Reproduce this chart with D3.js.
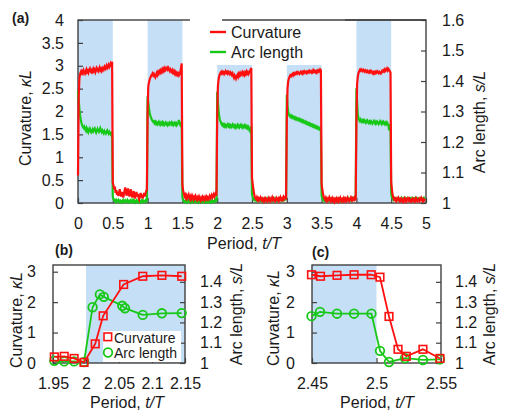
<!DOCTYPE html>
<html>
<head>
<meta charset="utf-8">
<script src="https://d3js.org/d3.v7.min.js"></script>
<style>
  body { margin: 0; background: #fff; }
  svg text { font-family: "Liberation Sans", Arial, sans-serif; fill: #1a1a1a; }
  .axis text { font-size: 16px; }
  .axis line { stroke: #404040; stroke-width: 1.2; }
  .axis path { display: none; }
  .frame { fill: none; stroke: #404040; stroke-width: 1.4; }
</style>
</head>
<body>
<svg id="chart" width="505" height="412"></svg>
<script>
// ---- data, panel (a): one array of samples per half period ----
const halfPeriod = 0.5;
const shadeA = [[0, 0.5], [1, 1.5], [2, 2.5], [3, 3.5], [4, 4.5]];
const periodTicksA = [0, 0.5, 1, 1.5, 2, 2.5, 3, 3.5, 4, 4.5, 5];
const curvTicksA = [0, 0.5, 1, 1.5, 2, 2.5, 3, 3.5, 4];
const arcTicksA = [1, 1.1, 1.2, 1.3, 1.4, 1.5, 1.6];

const curvatureA = [
  [0.6, 2.3, 2.72, 2.82, 2.86, 2.8, 2.87, 2.84, 2.9, 2.86, 2.83, 2.88, 2.92, 2.86, 2.89, 2.85, 2.91, 2.94, 2.88, 2.86,
   2.9, 2.87, 2.93, 2.89, 2.92, 2.86, 2.9, 2.95, 2.91, 2.88, 2.92, 2.96, 2.9, 2.93, 2.89, 2.94, 2.91, 2.95, 2.98, 2.93,
   2.96, 3.0, 2.95, 2.98, 3.02, 2.97, 3.0, 3.05, 3.02, 3.09],
  [0.45, 0.38, 0.3, 0.36, 0.22, 0.28, 0.18, 0.25, 0.15, 0.22, 0.3, 0.2, 0.14, 0.24, 0.18, 0.12, 0.2, 0.28, 0.34, 0.22,
   0.16, 0.25, 0.32, 0.2, 0.14, 0.22, 0.3, 0.18, 0.12, 0.2, 0.26, 0.16, 0.1, 0.18, 0.24, 0.14, 0.2, 0.12, 0.08, 0.15,
   0.22, 0.12, 0.18, 0.1, 0.16, 0.22, 0.14, 0.2, 0.26, 0.3],
  [2.0, 2.55, 2.64, 2.7, 2.74, 2.78, 2.8, 2.83, 2.79, 2.82, 2.78, 2.75, 2.8, 2.84, 2.8, 2.86, 2.83, 2.88, 2.85, 2.9,
   2.87, 2.92, 2.88, 2.93, 2.9, 2.95, 2.91, 2.94, 2.96, 2.92, 2.95, 2.91, 2.88, 2.92, 2.89, 2.86, 2.9, 2.85, 2.88, 2.83,
   2.86, 2.81, 2.84, 2.8, 2.83, 2.79, 2.82, 2.86, 2.95, 3.05],
  [0.4, 0.28, 0.22, 0.15, 0.18, 0.12, 0.16, 0.1, 0.14, 0.18, 0.12, 0.08, 0.14, 0.1, 0.16, 0.12, 0.08, 0.13, 0.1, 0.15,
   0.11, 0.07, 0.12, 0.09, 0.14, 0.1, 0.06, 0.11, 0.08, 0.13, 0.09, 0.12, 0.07, 0.1, 0.14, 0.09, 0.12, 0.08, 0.11, 0.15,
   0.1, 0.13, 0.17, 0.12, 0.15, 0.19, 0.14, 0.18, 0.22, 0.2],
  [1.9, 2.55, 2.7, 2.78, 2.82, 2.85, 2.83, 2.87, 2.84, 2.86, 2.82, 2.85, 2.88, 2.84, 2.86, 2.83, 2.87, 2.85, 2.82, 2.86,
   2.84, 2.8, 2.83, 2.78, 2.74, 2.79, 2.76, 2.72, 2.77, 2.8, 2.76, 2.82, 2.79, 2.84, 2.8, 2.83, 2.86, 2.81, 2.84, 2.8,
   2.85, 2.82, 2.87, 2.83, 2.86, 2.82, 2.85, 2.88, 2.92, 2.95],
  [0.55, 0.42, 0.3, 0.2, 0.14, 0.1, 0.08, 0.12, 0.07, 0.1, 0.06, 0.09, 0.12, 0.07, 0.05, 0.1, 0.08, 0.04, 0.09, 0.06,
   0.1, 0.07, 0.04, 0.08, 0.11, 0.06, 0.09, 0.05, 0.08, 0.12, 0.07, 0.1, 0.06, 0.04, 0.08, 0.11, 0.07, 0.09, 0.05, 0.1,
   0.07, 0.12, 0.08, 0.06, 0.1, 0.13, 0.08, 0.11, 0.14, 0.12],
  [1.8, 2.5, 2.66, 2.72, 2.76, 2.79, 2.77, 2.8, 2.82, 2.79, 2.83, 2.81, 2.84, 2.82, 2.85, 2.83, 2.86, 2.84, 2.82, 2.85,
   2.87, 2.84, 2.86, 2.83, 2.87, 2.85, 2.88, 2.86, 2.84, 2.87, 2.85, 2.88, 2.86, 2.89, 2.87, 2.85, 2.88, 2.86, 2.9, 2.87,
   2.89, 2.86, 2.88, 2.85, 2.89, 2.87, 2.9, 2.88, 2.92, 2.9],
  [0.42, 0.3, 0.2, 0.14, 0.1, 0.07, 0.11, 0.06, 0.09, 0.05, 0.08, 0.12, 0.07, 0.04, 0.09, 0.06, 0.1, 0.05, 0.08, 0.03,
   0.07, 0.1, 0.05, 0.08, 0.04, 0.09, 0.06, 0.11, 0.07, 0.04, 0.08, 0.05, 0.1, 0.06, 0.09, 0.04, 0.07, 0.11, 0.06, 0.08,
   0.05, 0.09, 0.12, 0.07, 0.1, 0.06, 0.08, 0.11, 0.07, 0.09],
  [1.7, 2.6, 2.76, 2.84, 2.88, 2.91, 2.89, 2.92, 2.9, 2.88, 2.91, 2.89, 2.87, 2.9, 2.88, 2.86, 2.89, 2.87, 2.85, 2.88,
   2.86, 2.89, 2.87, 2.84, 2.86, 2.83, 2.86, 2.84, 2.87, 2.85, 2.88, 2.86, 2.84, 2.87, 2.85, 2.83, 2.86, 2.89, 2.87, 2.9,
   2.88, 2.92, 2.89, 2.91, 2.94, 2.9, 2.93, 2.91, 2.88, 2.85],
  [0.45, 0.3, 0.18, 0.12, 0.08, 0.1, 0.06, 0.09, 0.05, 0.08, 0.11, 0.06, 0.04, 0.08, 0.05, 0.09, 0.06, 0.03, 0.07, 0.1,
   0.05, 0.08, 0.04, 0.07, 0.1, 0.06, 0.09, 0.05, 0.03, 0.07, 0.05, 0.09, 0.06, 0.04, 0.08, 0.05, 0.1, 0.07, 0.04, 0.06,
   0.09, 0.05, 0.08, 0.11, 0.06, 0.04, 0.08, 0.05, 0.07, 0.06]
];

const arcLengthA = [
  [1.368, 1.338, 1.308, 1.288, 1.273, 1.262, 1.255, 1.249, 1.246, 1.25, 1.242, 1.238, 1.245, 1.236, 1.241, 1.233, 1.239, 1.244, 1.236, 1.232,
   1.238, 1.242, 1.235, 1.24, 1.244, 1.236, 1.231, 1.238, 1.243, 1.237, 1.233, 1.239, 1.245, 1.237, 1.232, 1.238, 1.234, 1.229, 1.236, 1.232,
   1.228, 1.234, 1.238, 1.231, 1.227, 1.233, 1.229, 1.225, 1.23, 1.228],
  [1.02, 1.012, 1.008, 1.01, 1.005, 1.009, 1.004, 1.007, 1.01, 1.005, 1.003, 1.008, 1.006, 1.002, 1.007, 1.01, 1.005, 1.003, 1.008, 1.004,
   1.006, 1.01, 1.004, 1.002, 1.007, 1.005, 1.009, 1.003, 1.006, 1.01, 1.004, 1.007, 1.002, 1.006, 1.009, 1.004, 1.007, 1.003, 1.008, 1.005,
   1.002, 1.006, 1.01, 1.004, 1.007, 1.003, 1.006, 1.009, 1.005, 1.008],
  [1.35, 1.33, 1.31, 1.295, 1.286, 1.28, 1.274, 1.27, 1.266, 1.268, 1.262, 1.266, 1.26, 1.264, 1.258, 1.262, 1.266, 1.259, 1.263, 1.257,
   1.261, 1.265, 1.258, 1.262, 1.256, 1.26, 1.264, 1.258, 1.261, 1.255, 1.259, 1.263, 1.257, 1.26, 1.264, 1.258, 1.262, 1.256, 1.26, 1.263,
   1.257, 1.261, 1.255, 1.259, 1.263, 1.272, 1.262, 1.256, 1.26, 1.264],
  [1.018, 1.01, 1.006, 1.003, 1.007, 1.004, 1.008, 1.002, 1.005, 1.009, 1.004, 1.006, 1.002, 1.007, 1.004, 1.008, 1.003, 1.006, 1.01, 1.004,
   1.002, 1.006, 1.009, 1.003, 1.007, 1.004, 1.002, 1.006, 1.008, 1.003, 1.005, 1.009, 1.004, 1.002, 1.007, 1.005, 1.003, 1.008, 1.004, 1.006,
   1.002, 1.007, 1.004, 1.009, 1.005, 1.003, 1.007, 1.01, 1.006, 1.008],
  [1.365, 1.33, 1.3, 1.283, 1.272, 1.266, 1.26, 1.256, 1.259, 1.253, 1.257, 1.251, 1.255, 1.25, 1.254, 1.258, 1.252, 1.256, 1.25, 1.254,
   1.249, 1.253, 1.257, 1.251, 1.255, 1.249, 1.253, 1.247, 1.252, 1.256, 1.25, 1.254, 1.248, 1.252, 1.256, 1.25, 1.253, 1.247, 1.251, 1.255,
   1.249, 1.253, 1.247, 1.251, 1.245, 1.249, 1.24, 1.236, 1.245, 1.25],
  [1.03, 1.018, 1.012, 1.015, 1.01, 1.013, 1.008, 1.012, 1.015, 1.01, 1.007, 1.012, 1.009, 1.014, 1.01, 1.006, 1.011, 1.014, 1.009, 1.012,
   1.008, 1.013, 1.01, 1.015, 1.011, 1.007, 1.012, 1.009, 1.014, 1.01, 1.013, 1.008, 1.011, 1.015, 1.01, 1.012, 1.007, 1.011, 1.014, 1.009,
   1.012, 1.016, 1.01, 1.013, 1.009, 1.014, 1.011, 1.016, 1.012, 1.015],
  [1.355, 1.32, 1.3, 1.29, 1.286, 1.283, 1.287, 1.281, 1.284, 1.279, 1.282, 1.277, 1.28, 1.275, 1.278, 1.273, 1.276, 1.272, 1.275, 1.27,
   1.273, 1.268, 1.271, 1.266, 1.269, 1.264, 1.267, 1.262, 1.265, 1.26, 1.263, 1.258, 1.261, 1.256, 1.259, 1.254, 1.257, 1.252, 1.255, 1.25,
   1.253, 1.248, 1.251, 1.246, 1.249, 1.244, 1.247, 1.242, 1.245, 1.24],
  [1.025, 1.015, 1.01, 1.013, 1.008, 1.012, 1.009, 1.014, 1.01, 1.007, 1.012, 1.009, 1.013, 1.008, 1.011, 1.015, 1.01, 1.007, 1.012, 1.009,
   1.013, 1.01, 1.006, 1.011, 1.014, 1.009, 1.012, 1.008, 1.013, 1.01, 1.007, 1.012, 1.015, 1.01, 1.008, 1.013, 1.009, 1.012, 1.016, 1.011,
   1.008, 1.013, 1.01, 1.014, 1.009, 1.012, 1.016, 1.011, 1.014, 1.018],
  [1.376, 1.33, 1.29, 1.278, 1.272, 1.268, 1.274, 1.27, 1.266, 1.271, 1.267, 1.272, 1.268, 1.264, 1.269, 1.265, 1.27, 1.266, 1.262, 1.267,
   1.263, 1.268, 1.264, 1.26, 1.265, 1.269, 1.264, 1.26, 1.266, 1.262, 1.267, 1.263, 1.259, 1.264, 1.268, 1.263, 1.259, 1.265, 1.261, 1.266,
   1.262, 1.258, 1.263, 1.259, 1.264, 1.26, 1.255, 1.238, 1.252, 1.258],
  [1.03, 1.018, 1.014, 1.01, 1.013, 1.016, 1.011, 1.014, 1.009, 1.013, 1.016, 1.011, 1.014, 1.01, 1.013, 1.017, 1.012, 1.009, 1.014, 1.011,
   1.015, 1.01, 1.013, 1.016, 1.012, 1.009, 1.014, 1.011, 1.015, 1.012, 1.016, 1.011, 1.014, 1.01, 1.013, 1.017, 1.012, 1.015, 1.011, 1.014,
   1.01, 1.013, 1.016, 1.012, 1.015, 1.011, 1.014, 1.017, 1.012, 1.015]
];

// ---- data, panel (b): start of a bending stroke ----
const periodTicksB = [1.95, 2, 2.05, 2.1, 2.15];
const curvTicksB = [0, 1, 2, 3];
const arcTicksB = [1, 1.1, 1.2, 1.3, 1.4];
const curvTimeB = [1.952, 1.967, 1.982, 1.997, 2.014, 2.026, 2.057, 2.086, 2.115, 2.145];
const curvB = [0.2, 0.22, 0.15, 0.02, 0.63, 1.55, 2.58, 2.85, 2.88, 2.85];
const arcTimeB = [1.952, 1.967, 1.982, 1.997, 2.01, 2.021, 2.027, 2.055, 2.059, 2.086, 2.115, 2.145];
const arcB = [1.011, 1.008, 1.008, 1.005, 1.275, 1.338, 1.326, 1.282, 1.27, 1.237, 1.245, 1.246];

// ---- data, panel (c): release ----
const periodTicksC = [2.45, 2.5, 2.55];
const curvTimeC = [2.4496, 2.4566, 2.4694, 2.4826, 2.4959, 2.5027, 2.5097, 2.5167, 2.5231, 2.536, 2.5492];
const curvC = [2.9, 2.85, 2.88, 2.9, 2.9, 2.82, 1.53, 0.45, 0.22, 0.45, 0.15];
const arcTimeC = [2.4496, 2.4562, 2.4694, 2.4826, 2.4961, 2.5027, 2.5097, 2.5221, 2.536, 2.5492];
const arcC = [1.231, 1.252, 1.243, 1.243, 1.243, 1.06, 1.005, 1.024, 1.015, 1.018];

const red = "#ff1010", green = "#18c818", blue = "#c5dff6";

const svg = d3.select("#chart");

// shading, axes, frame and titles shared by the three panels
function drawPanel(p) {
    const g = svg.append("g");
    const [x0, x1] = p.x.range();
    const [yb, yt] = p.y.range();

    g.selectAll(".shade")
        .data(p.shade)
        .enter().append("rect")
        .attr("x", d => p.x(d[0]))
        .attr("y", yt)
        .attr("width", d => p.x(d[1]) - p.x(d[0]))
        .attr("height", yb - yt)
        .attr("fill", blue);

    g.append("g")
        .attr("class", "axis")
        .attr("transform", `translate(${x0},0)`)
        .call(d3.axisLeft(p.y).tickValues(p.yTicks).tickSize(-5).tickPadding(p.padL).tickFormat(d => d));

    g.append("g")
        .attr("class", "axis")
        .attr("transform", `translate(${x1},0)`)
        .call(d3.axisRight(p.y2).tickValues(p.y2Ticks).tickSize(-5).tickPadding(p.padR).tickFormat(d => d));

    g.append("g")
        .attr("class", "axis")
        .attr("transform", `translate(0,${yb})`)
        .call(d3.axisBottom(p.x).tickValues(p.xTicks).tickSize(-5).tickPadding(15).tickFormat(d => d));

    g.append("rect")
        .attr("class", "frame")
        .attr("x", x0).attr("y", yt)
        .attr("width", x1 - x0).attr("height", yb - yt);

    // axis titles
    title(g, p.xTitle[0], p.xTitle[1], 0, [["Period, ", false], ["t/T", true]]);
    title(g, p.lTitle[0], p.lTitle[1], -90, [["Curvature, ", false], ["\u03baL", true]]);
    title(g, p.rTitle[0], p.rTitle[1], -90, [["Arc length, ", false], ["s/L", true]]);

    g.append("text")
        .attr("x", p.tag[0]).attr("y", p.tag[1])
        .style("font-size", "14px").style("font-weight", "bold")
        .text(p.tag[2]);
    return g;
}

function title(g, x, y, rot, parts) {
    const t = g.append("text")
        .attr("text-anchor", "middle")
        .attr("transform", `translate(${x},${y}) rotate(${rot})`)
        .style("font-size", "16px");
    parts.forEach(d => t.append("tspan").style("font-style", d[1] ? "italic" : "normal").text(d[0]));
}

// sample times inside each half period
function halfPeriodPoints(segments) {
    const pts = [];
    segments.forEach((vals, k) => {
        vals.forEach((v, j) => pts.push([k * halfPeriod + j * halfPeriod / vals.length, v]));
    });
    return pts;
}

// ---------- Panel (a) ----------
const xA = d3.scaleLinear().domain([0, 5]).range([78, 426]);
const yA = d3.scaleLinear().domain([0, 4]).range([203, 20]);
const y2A = d3.scaleLinear().domain([1, 1.6]).range([203, 20]);

const gA = drawPanel({
    x: xA, y: yA, y2: y2A, shade: shadeA,
    xTicks: periodTicksA, yTicks: curvTicksA, y2Ticks: arcTicksA,
    padL: 14, padR: 16,
    xTitle: [244, 249], lTitle: [31, 118], rTitle: [485, 122], tag: [12, 23, "(a)"]
});

gA.append("path")
    .datum(halfPeriodPoints(arcLengthA))
    .attr("fill", "none").attr("stroke", green).attr("stroke-width", 2.2)
    .attr("d", d3.line().x(d => xA(d[0])).y(d => y2A(d[1])));

gA.append("path")
    .datum(halfPeriodPoints(curvatureA))
    .attr("fill", "none").attr("stroke", red).attr("stroke-width", 2.2)
    .attr("d", d3.line().x(d => xA(d[0])).y(d => yA(d[1])));

// legend (a) sits on a white box over the plot top
gA.append("rect").attr("x", 190).attr("y", 18.5).attr("width", 155).attr("height", 46.5).attr("fill", "#fff");
gA.append("line").attr("x1", 222).attr("x2", 426).attr("y1", 20).attr("y2", 20)
    .attr("stroke", "#404040").attr("stroke-width", 1.4);
[["Curvature", red, 32], ["Arc length", green, 52]].forEach(d => {
    gA.append("line").attr("x1", 210).attr("x2", 226).attr("y1", d[2]).attr("y2", d[2])
        .attr("stroke", d[1]).attr("stroke-width", 2.4);
    gA.append("text").attr("x", 231).attr("y", d[2] + 5.5).style("font-size", "16px").text(d[0]);
});

// ---------- Panel (b) ----------
const xB = d3.scaleLinear().domain([1.95, 2.15]).range([53, 185]);
const yB = d3.scaleLinear().domain([0, 3.22]).range([363, 265]);
const y2B = d3.scaleLinear().domain([1, 1.483]).range([363, 265]);

const gB = drawPanel({
    x: xB, y: yB, y2: y2B, shade: [[2, 2.15]],
    xTicks: periodTicksB, yTicks: curvTicksB, y2Ticks: arcTicksB,
    padL: 17, padR: 15,
    xTitle: [127, 408], lTitle: [21.5, 320], rTitle: [242, 314], tag: [55, 255, "(b)"]
});

// ---------- Panel (c) ----------
const xC = d3.scaleLinear().domain([2.45, 2.55]).range([312, 441]);
const yC = d3.scaleLinear().domain([0, 3.22]).range([363, 265]);
const y2C = d3.scaleLinear().domain([1, 1.483]).range([363, 265]);

const gC = drawPanel({
    x: xC, y: yC, y2: y2C, shade: [[2.45, 2.5]],
    xTicks: periodTicksC, yTicks: curvTicksB, y2Ticks: arcTicksB,
    padL: 17, padR: 14,
    xTitle: [377, 408], lTitle: [279, 318], rTitle: [495, 314], tag: [312, 257, "(c)"]
});

// marker series for (b) and (c)
function drawMarkers(g, x, y, y2, cT, cV, aT, aV) {
    const curv = d3.zip(cT, cV), arc = d3.zip(aT, aV);
    g.append("path").datum(arc)
        .attr("fill", "none").attr("stroke", green).attr("stroke-width", 1.8)
        .attr("d", d3.line().x(d => x(d[0])).y(d => y2(d[1])));
    g.selectAll(".circ").data(arc).enter().append("circle")
        .attr("cx", d => x(d[0])).attr("cy", d => y2(d[1])).attr("r", 4.3)
        .attr("fill", "none").attr("stroke", green).attr("stroke-width", 1.8);
    g.append("path").datum(curv)
        .attr("fill", "none").attr("stroke", red).attr("stroke-width", 1.8)
        .attr("d", d3.line().x(d => x(d[0])).y(d => y(d[1])));
    g.selectAll(".sq").data(curv).enter().append("rect")
        .attr("x", d => x(d[0]) - 3.8).attr("y", d => y(d[1]) - 3.8)
        .attr("width", 7.6).attr("height", 7.6)
        .attr("fill", "none").attr("stroke", red).attr("stroke-width", 1.6);
}

drawMarkers(gB, xB, yB, y2B, curvTimeB, curvB, arcTimeB, arcB);
drawMarkers(gC, xC, yC, y2C, curvTimeC, curvC, arcTimeC, arcC);

// legend (b)
gB.append("rect").attr("x", 103).attr("y", 331).attr("width", 78).attr("height", 31).attr("fill", "#fff");
gB.append("rect").attr("x", 104).attr("y", 333).attr("width", 7.6).attr("height", 7.6)
    .attr("fill", "none").attr("stroke", red).attr("stroke-width", 1.6);
gB.append("circle").attr("cx", 108).attr("cy", 352.5).attr("r", 4.3)
    .attr("fill", "none").attr("stroke", green).attr("stroke-width", 1.8);
gB.append("text").attr("x", 114).attr("y", 342.5).style("font-size", "14px").text("Curvature");
gB.append("text").attr("x", 114).attr("y", 357.5).style("font-size", "14px").text("Arc length");
</script>
</body>
</html>
